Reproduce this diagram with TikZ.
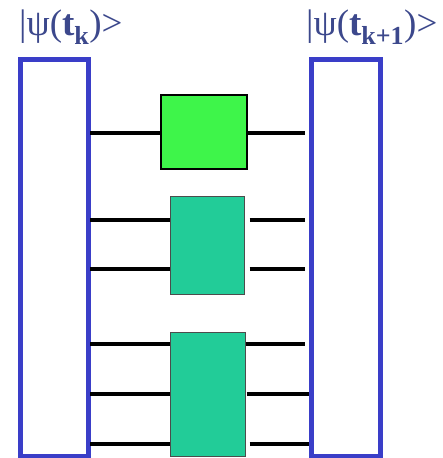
\documentclass[tikz,border=0pt]{standalone}
\usepackage{fontspec}
\setmainfont{Liberation Serif}
\definecolor{framecol}{RGB}{58,62,200}
\definecolor{labelcol}{RGB}{60,72,140}
\definecolor{gatea}{RGB}{62,245,74}
\definecolor{gateb}{RGB}{34,204,152}
\begin{document}
\begin{tikzpicture}[x=1pt,y=-1pt,
  state/.style={draw=framecol,line width=5pt,fill=white},
  wire/.style={line width=4pt,black},
  gatebox/.style={draw=black!70,line width=1pt},
  ketlabel/.style={text=labelcol,font=\fontsize{37}{40}\selectfont,anchor=west,inner sep=0pt}]
\useasboundingbox (0,0) rectangle (443,458);
% state registers
\draw[state] (20,59) rectangle (88,456);
\draw[state] (311,59) rectangle (380,456);
\node[ketlabel] (lk) at (19,27) {|ψ(\textbf{t\textsubscript{\fontsize{26}{28}\selectfont k}})>};
\node[ketlabel] (lk1) at (306,27) {|ψ(\textbf{t\textsubscript{\fontsize{26}{28}\selectfont k+1}})>};
% gates
\node[gatebox,fill=gatea,draw=black,line width=2pt,minimum width=86pt,minimum height=74pt,inner sep=0pt] (g1) at (204,132) {};
\node[gatebox,fill=gateb,minimum width=74pt,minimum height=98pt,inner sep=0pt] (g2) at (207,245) {};
\node[gatebox,fill=gateb,minimum width=75pt,minimum height=124pt,inner sep=0pt] (g3) at (207.5,394) {};
% wire end points
\coordinate (l1) at (90,133); \coordinate (r1) at (305,133);
\coordinate (l2) at (90,220); \coordinate (r2) at (305,220);
\coordinate (l3) at (90,269); \coordinate (r3) at (305,269);
\coordinate (l4) at (90,344); \coordinate (r4) at (305,344);
\coordinate (l5) at (90,394); \coordinate (r5) at (309,394);
\coordinate (l6) at (90,444); \coordinate (r6) at (309,444);
\draw[wire] (l1) -- (g1.west |- l1);
\draw[wire] (g1.east |- r1) -- (r1);
\draw[wire] (l2) -- (g2.west |- l2);
\draw[wire] ([xshift=5pt]g2.east |- r2) -- (r2);
\draw[wire] (l3) -- (g2.west |- l3);
\draw[wire] ([xshift=5pt]g2.east |- r3) -- (r3);
\draw[wire] (l4) -- (g3.west |- l4);
\draw[wire] (g3.east |- r4) -- (r4);
\draw[wire] (l5) -- (g3.west |- l5);
\draw[wire] ([xshift=1pt]g3.east |- r5) -- (r5);
\draw[wire] (l6) -- (g3.west |- l6);
\draw[wire] ([xshift=4pt]g3.east |- r6) -- (r6);
\end{tikzpicture}
\end{document}
